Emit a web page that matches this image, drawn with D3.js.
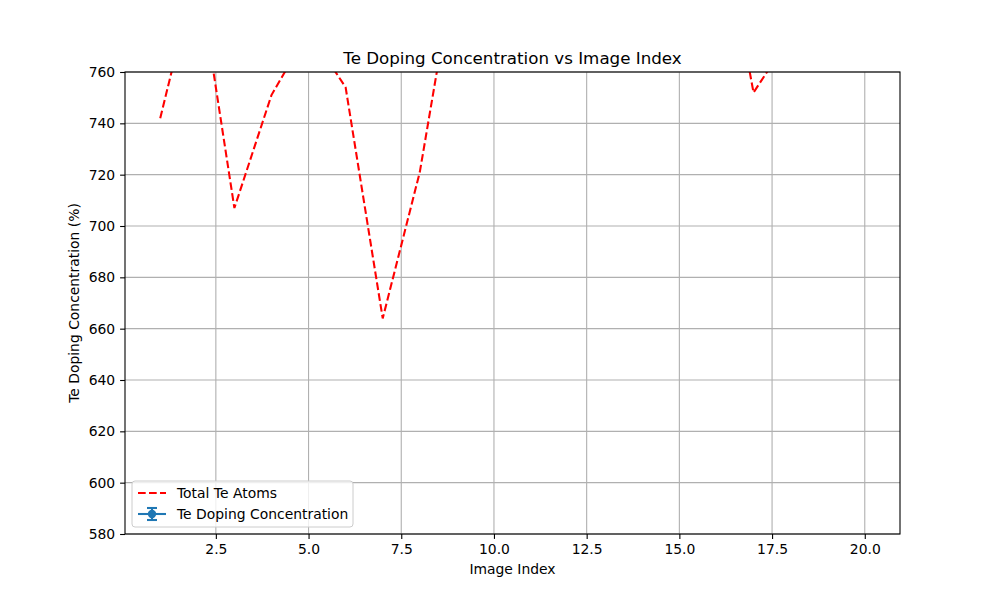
<!DOCTYPE html>
<html>
<head>
<meta charset="utf-8">
<script src="https://cdn.jsdelivr.net/npm/d3@7"></script>
<style>
  body { margin: 0; background: #fff; }
  text { font-family: "DejaVu Sans", sans-serif; }
</style>
</head>
<body>
<div class="canvas"></div>
<script>
// data
const imageIndex = [1, 2, 3, 4, 5, 6, 7, 8, 9, 10, 11, 12, 13, 14, 15, 16, 17, 18, 19, 20]
const totalTeAtoms = [742, 801, 707, 751, 776, 754, 664, 721, 806, 812, 798, 820, 809, 815, 802, 830, 752, 774, 790, 785]
const teDoping = [4.1, 4.5, 3.9, 4.2, 4.4, 4.2, 3.7, 4.0, 4.5, 4.5, 4.4, 4.6, 4.5, 4.5, 4.4, 4.6, 4.2, 4.3, 4.4, 4.4]
const teDopingErr = [0.3, 0.3, 0.3, 0.3, 0.3, 0.3, 0.3, 0.3, 0.3, 0.3, 0.3, 0.3, 0.3, 0.3, 0.3, 0.3, 0.3, 0.3, 0.3, 0.3]
const xTicks = [2.5, 5, 7.5, 10, 12.5, 15, 17.5, 20]
const yTicks = [580, 600, 620, 640, 660, 680, 700, 720, 740, 760]

const width = 1000
const height = 600
const margin = { top: 72, right: 100, bottom: 66, left: 125 }
const graphWidth = width - margin.left - margin.right
const graphHeight = height - margin.top - margin.bottom

const svg = d3.select('.canvas')
  .append('svg')
  .attr('width', width)
  .attr('height', height)

const graph = svg.append('g')
  .attr('transform', `translate(${margin.left}, ${margin.top})`)

// scales
const x = d3.scaleLinear()
  .domain([0.05, 20.95])
  .range([0, graphWidth])

const y = d3.scaleLinear()
  .domain([580, 760])
  .range([graphHeight, 0])

// grid
graph.append('g')
  .selectAll('line.vg')
  .data(xTicks)
  .enter().append('line')
  .attr('x1', d => x(d)).attr('x2', d => x(d))
  .attr('y1', 0).attr('y2', graphHeight)
  .attr('stroke', '#b0b0b0').attr('stroke-width', 1.1)

graph.append('g')
  .selectAll('line.hg')
  .data(yTicks)
  .enter().append('line')
  .attr('x1', 0).attr('x2', graphWidth)
  .attr('y1', d => y(d)).attr('y2', d => y(d))
  .attr('stroke', '#b0b0b0').attr('stroke-width', 1.1)

// clip for data
svg.append('defs').append('clipPath')
  .attr('id', 'clip')
  .append('rect')
  .attr('width', graphWidth)
  .attr('height', graphHeight)

const plot = graph.append('g').attr('clip-path', 'url(#clip)')

// Total Te Atoms dashed line
const line = d3.line()
  .x((d, i) => x(imageIndex[i]))
  .y(d => y(d))

plot.append('path')
  .datum(totalTeAtoms)
  .attr('d', line)
  .attr('fill', 'none')
  .attr('stroke', 'red')
  .attr('stroke-width', 2.08)
  .attr('stroke-dasharray', '7.7,3.3')

// Te Doping errorbar (falls below the visible range)
const blue = '#1f77b4'
plot.append('path')
  .datum(teDoping)
  .attr('d', line)
  .attr('fill', 'none')
  .attr('stroke', blue)
  .attr('stroke-width', 2.08)

plot.selectAll('circle.dop')
  .data(teDoping)
  .enter().append('circle')
  .attr('cx', (d, i) => x(imageIndex[i]))
  .attr('cy', d => y(d))
  .attr('r', 4.2)
  .attr('fill', blue)

plot.selectAll('line.err')
  .data(teDoping)
  .enter().append('line')
  .attr('x1', (d, i) => x(imageIndex[i]))
  .attr('x2', (d, i) => x(imageIndex[i]))
  .attr('y1', (d, i) => y(d - teDopingErr[i]))
  .attr('y2', (d, i) => y(d + teDopingErr[i]))
  .attr('stroke', blue)
  .attr('stroke-width', 2.08)

// axes
const xAxis = d3.axisBottom(x)
  .tickValues(xTicks)
  .tickFormat(d3.format('.1f'))
  .tickSizeOuter(0)
  .tickSize(4.9)
  .tickPadding(4.9)

const yAxis = d3.axisLeft(y)
  .tickValues(yTicks)
  .tickSizeOuter(0)
  .tickSize(4.9)
  .tickPadding(4.9)

const xAxisGroup = graph.append('g')
  .attr('transform', `translate(0, ${graphHeight})`)
  .call(xAxis)
const yAxisGroup = graph.append('g')
  .call(yAxis)

;[xAxisGroup, yAxisGroup].forEach(g => {
  g.select('.domain').remove()
  g.selectAll('text')
    .attr('font-family', '"DejaVu Sans", sans-serif')
    .attr('font-size', '13.9px')
    .attr('fill', '#000')
  g.selectAll('line').attr('stroke', '#000').attr('stroke-width', 1.1)
})

// frame
graph.append('rect')
  .attr('width', graphWidth)
  .attr('height', graphHeight)
  .attr('fill', 'none')
  .attr('stroke', '#000')
  .attr('stroke-width', 1.1)

// title & labels
svg.append('text')
  .attr('x', margin.left + graphWidth / 2)
  .attr('y', margin.top - 8)
  .attr('text-anchor', 'middle')
  .attr('font-size', '16.7px')
  .text('Te Doping Concentration vs Image Index')

svg.append('text')
  .attr('x', margin.left + graphWidth / 2)
  .attr('y', 574)
  .attr('text-anchor', 'middle')
  .attr('font-size', '13.9px')
  .text('Image Index')

svg.append('text')
  .attr('transform', `translate(79, ${margin.top + graphHeight / 2}) rotate(-90)`)
  .attr('text-anchor', 'middle')
  .attr('font-size', '13.9px')
  .text('Te Doping Concentration (%)')

// legend
const legend = graph.append('g')
  .attr('transform', `translate(7, ${graphHeight - 53})`)

legend.append('rect')
  .attr('width', 221)
  .attr('height', 46)
  .attr('rx', 3)
  .attr('fill', '#fff')
  .attr('fill-opacity', 0.8)
  .attr('stroke', '#cccccc')
  .attr('stroke-width', 1)

legend.append('line')
  .attr('x1', 6).attr('x2', 34)
  .attr('y1', 12).attr('y2', 12)
  .attr('stroke', 'red')
  .attr('stroke-width', 2.08)
  .attr('stroke-dasharray', '7.7,3.3')

legend.append('text')
  .attr('x', 45).attr('y', 17)
  .attr('font-size', '13.9px')
  .text('Total Te Atoms')

legend.append('line')
  .attr('x1', 6).attr('x2', 34)
  .attr('y1', 33).attr('y2', 33)
  .attr('stroke', blue).attr('stroke-width', 2.08)
legend.append('line')
  .attr('x1', 20).attr('x2', 20)
  .attr('y1', 27).attr('y2', 39)
  .attr('stroke', blue).attr('stroke-width', 2.08)
legend.append('line')
  .attr('x1', 15).attr('x2', 25)
  .attr('y1', 27).attr('y2', 27)
  .attr('stroke', blue).attr('stroke-width', 2.08)
legend.append('line')
  .attr('x1', 15).attr('x2', 25)
  .attr('y1', 39).attr('y2', 39)
  .attr('stroke', blue).attr('stroke-width', 2.08)
legend.append('circle')
  .attr('cx', 20).attr('cy', 33).attr('r', 4.2)
  .attr('fill', blue)

legend.append('text')
  .attr('x', 45).attr('y', 38)
  .attr('font-size', '13.9px')
  .text('Te Doping Concentration')
</script>
</body>
</html>
